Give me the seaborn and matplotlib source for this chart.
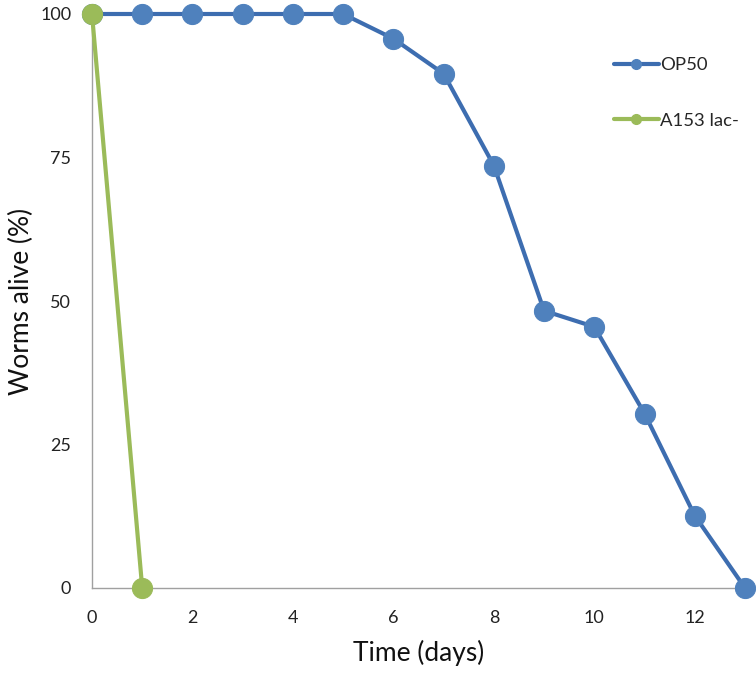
import pandas as pd
import seaborn as sns
import numpy as np
import matplotlib.pyplot as plt
from matplotlib.lines import Line2D

# valores
dias_op50 = [0, 1, 2, 3, 4, 5, 6, 7, 8, 9, 10, 11, 12, 13]
vivos_op50 = [100, 100, 100, 100, 100, 100, 95.7, 89.6, 73.6, 48.3, 45.5, 30.4, 12.6, 0]
dias_a153 = [0, 1]
vivos_a153 = [100, 0]
cepas = ["OP50", "A153 lac-"]
colores = {"OP50": "#4F81BD", "A153 lac-": "#9BBB59"}
colores_linea = {"OP50": "#3D6DB0", "A153 lac-": "#9BBB59"}

data = pd.concat([
    pd.DataFrame({"dia": dias_op50, "vivos": vivos_op50, "cepa": "OP50"}),
    pd.DataFrame({"dia": dias_a153, "vivos": vivos_a153, "cepa": "A153 lac-"}),
])

sns.set_style("white")
plt.rcParams["font.family"] = ["Lato", "DejaVu Sans"]

fig = plt.figure(figsize=(7.56, 6.73), dpi=100)
ax = fig.add_axes([92 / 756, 1 - 588 / 673, (745 - 92) / 756, (588 - 14) / 673])

# primero OP50 y luego A153 para que la verde quede encima
for c in cepas:
    sub = data[data["cepa"] == c]
    sns.lineplot(data=sub, x="dia", y="vivos", ax=ax, color=colores_linea[c],
                 linewidth=3, marker="o", markersize=14.5,
                 markerfacecolor=colores[c], markeredgecolor=colores[c],
                 clip_on=False, zorder=3, legend=False)

ax.set_xlim(0, 13)
ax.set_ylim(0, 100)
ax.set_xticks(range(0, 14))
ax.set_xticklabels([str(d) if d % 2 == 0 else "" for d in range(0, 14)])
ax.set_yticks([0, 25, 50, 75, 100])
ax.tick_params(axis="both", which="major", direction="out", length=5, width=1,
               color="#A0A0A0", labelsize=13, labelcolor="#222222")
ax.tick_params(axis="x", pad=11)
ax.tick_params(axis="y", pad=10)

sns.despine(ax=ax)
for s in ["left", "bottom"]:
    ax.spines[s].set_color("#A0A0A0")
    ax.spines[s].set_linewidth(1)

ax.set_xlabel("Time (days)", fontsize=19, color="#111111", labelpad=10)
ax.set_ylabel("Worms alive (%)", fontsize=19, color="#111111", labelpad=4)

handles = [Line2D([0], [0], color=colores_linea[c], linewidth=3, marker="o",
                  markersize=7, markerfacecolor=colores[c], markeredgecolor=colores[c])
           for c in cepas]
ax.legend(handles, cepas, loc="upper left", bbox_to_anchor=(605 / 756, 1 - 48 / 673),
          bbox_transform=fig.transFigure, frameon=False, fontsize=13.3,
          handlelength=2.4, handletextpad=0.1, labelspacing=2.14, borderpad=0)

fig.savefig("out.png", dpi=100)
